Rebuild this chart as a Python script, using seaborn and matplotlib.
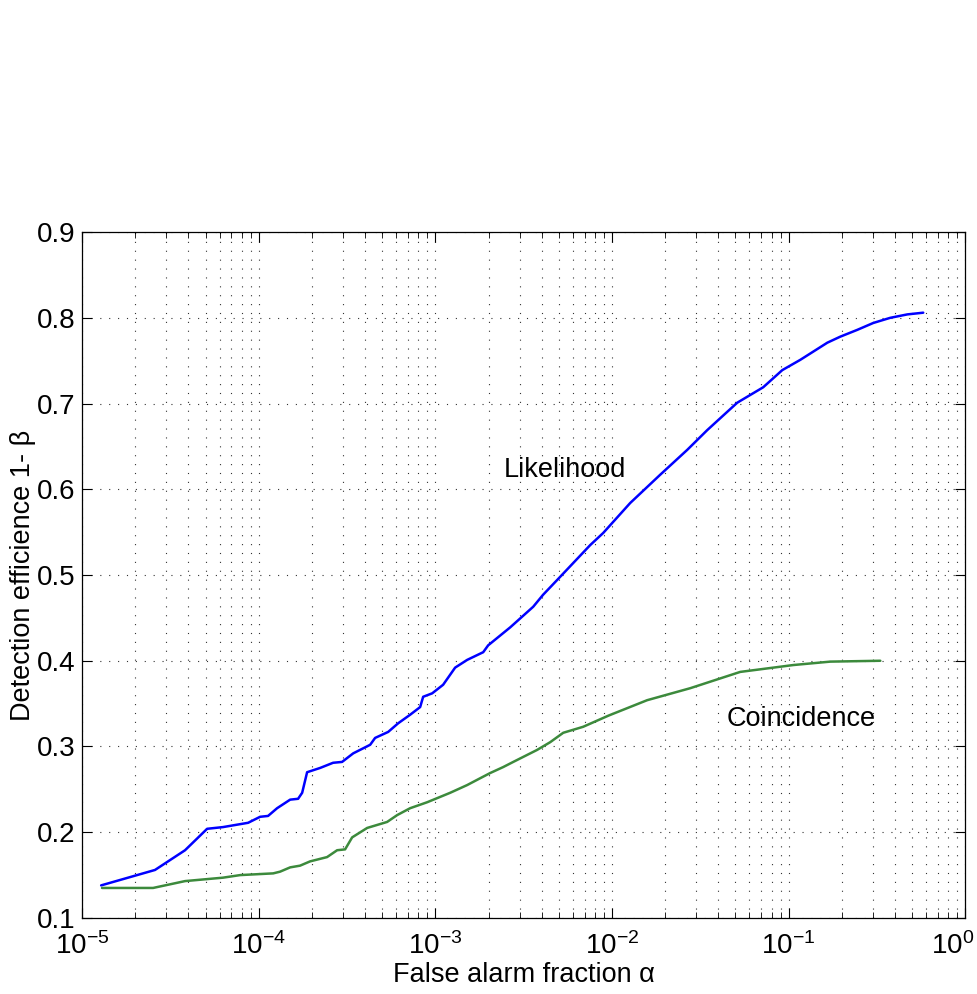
import matplotlib
matplotlib.use("Agg")
import matplotlib.pyplot as plt
import matplotlib.transforms as mtransforms
import numpy as np
import pandas as pd
import seaborn as sns
from matplotlib.ticker import LogLocator, MultipleLocator

# curve values (log10 of false alarm fraction, efficiency)
likelihood_logx = [-4.892, -4.587, -4.417, -4.292, -4.202, -4.060, -3.992, -3.947, -3.896,
                   -3.822, -3.777, -3.754, -3.726, -3.652, -3.579, -3.528, -3.465, -3.369,
                   -3.341, -3.267, -3.211, -3.143, -3.086, -3.069, -3.018, -2.956, -2.888,
                   -2.820, -2.729, -2.701, -2.576, -2.446, -2.390, -2.293, -2.123, -2.050,
                   -1.897, -1.727, -1.574, -1.461, -1.291, -1.144, -1.036, -0.934, -0.781,
                   -0.708, -0.611, -0.521, -0.425, -0.328, -0.238]
likelihood_eff = [0.138, 0.156, 0.179, 0.204, 0.206, 0.211, 0.218, 0.219, 0.228,
                  0.238, 0.239, 0.246, 0.270, 0.275, 0.281, 0.282, 0.292, 0.302,
                  0.310, 0.317, 0.327, 0.337, 0.346, 0.358, 0.362, 0.372, 0.392,
                  0.401, 0.410, 0.418, 0.439, 0.463, 0.477, 0.498, 0.535, 0.549,
                  0.584, 0.617, 0.646, 0.669, 0.701, 0.719, 0.739, 0.751, 0.771,
                  0.778, 0.786, 0.794, 0.800, 0.804, 0.806]

coincidence_logx = [-4.887, -4.598, -4.417, -4.202, -4.105, -3.918, -3.879, -3.822, -3.766,
                    -3.709, -3.613, -3.556, -3.511, -3.471, -3.386, -3.273, -3.216, -3.143,
                    -3.046, -2.916, -2.820, -2.746, -2.690, -2.616, -2.559, -2.424, -2.350,
                    -2.276, -2.163, -2.020, -1.801, -1.557, -1.274, -0.974, -0.764, -0.481]
coincidence_eff = [0.135, 0.135, 0.143, 0.147, 0.150, 0.152, 0.154, 0.159, 0.161,
                   0.166, 0.171, 0.179, 0.180, 0.194, 0.205, 0.212, 0.220, 0.228,
                   0.235, 0.246, 0.255, 0.263, 0.269, 0.276, 0.282, 0.296, 0.305,
                   0.316, 0.323, 0.336, 0.354, 0.368, 0.387, 0.395, 0.399, 0.400]

decades = [-5, -4, -3, -2, -1, 0]

sns.set_style("ticks")
plt.rcParams["font.family"] = ["Liberation Sans", "DejaVu Sans"]
plt.rcParams["mathtext.fontset"] = "custom"
plt.rcParams["mathtext.rm"] = "Liberation Sans"
plt.rcParams["mathtext.it"] = "Liberation Sans:italic"
for key in ["text.color", "axes.labelcolor", "xtick.color", "ytick.color"]:
    plt.rcParams[key] = "black"

df_l = pd.DataFrame({"alpha": 10 ** np.array(likelihood_logx), "eff": likelihood_eff})
df_c = pd.DataFrame({"alpha": 10 ** np.array(coincidence_logx), "eff": coincidence_eff})

fig = plt.figure(figsize=(9.77, 9.94), dpi=100)
ax = fig.add_axes([0.084, 0.0765, 0.904, 0.690])

sns.lineplot(data=df_l, x="alpha", y="eff", ax=ax, color="#0000ff", lw=1.8,
             sort=False, estimator=None)
sns.lineplot(data=df_c, x="alpha", y="eff", ax=ax, color="#3c8a3c", lw=1.8,
             sort=False, estimator=None)

ax.set_xscale("log")
ax.set_xlim(1e-5, 1)
ax.set_ylim(0.1, 0.9)
ax.yaxis.set_major_locator(MultipleLocator(0.1))
ax.set_xticks([10.0 ** d for d in decades],
              [f"$10^{{{d}}}$" if d < 0 else "$10^{0}$" for d in decades])
ax.xaxis.set_minor_locator(LogLocator(base=10, subs=np.arange(2, 10), numticks=20))

dots = (0, (1, 7))
ax.grid(True, which="major", axis="both", ls=dots, color="#333333", lw=0.8)
ax.grid(True, which="minor", axis="x", ls=dots, color="#333333", lw=0.8)

for s in ax.spines.values():
    s.set_visible(True)
    s.set_color("black")
    s.set_linewidth(0.9)

ax.tick_params(which="both", direction="in", top=True, right=True, labelsize=20)
ax.tick_params(which="major", length=7)
ax.tick_params(which="minor", length=4)
ax.tick_params(axis="x", which="major", pad=10)
ax.tick_params(axis="y", which="major", pad=5)
ax.yaxis.set_major_formatter(plt.FuncFormatter(lambda v, p: f"{v:.1f}"))

ax.set_xlabel("False alarm fraction α", fontsize=19.5, labelpad=2)
ax.set_ylabel("Detection efficience 1- β", fontsize=19.5, labelpad=0)

ax.text(5.4e-3, 0.622, "Likelihood", fontsize=19.5, ha="center", va="center")
ax.text(0.118, 0.332, "Coincidence", fontsize=19.5, ha="center", va="center")

# keep the last decade label inside the figure
last = ax.get_xticklabels()[-1]
last.set_horizontalalignment("right")
last.set_transform(last.get_transform() + mtransforms.ScaledTranslation(9 / 100, 0, fig.dpi_scale_trans))

fig.savefig("out.png", dpi=100)
